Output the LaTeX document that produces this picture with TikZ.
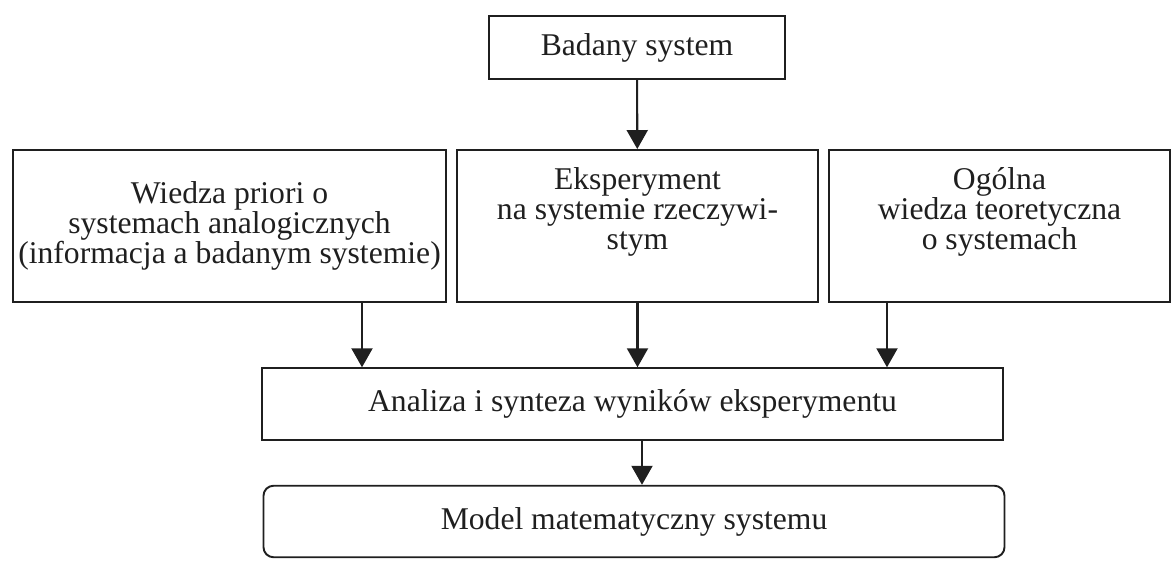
\documentclass[tikz,border=0pt]{standalone}
\usepackage{fontspec}
\setmainfont{Liberation Serif}
\usetikzlibrary{arrows.meta,positioning}
\colorlet{ink}{black!88}

\begin{document}
\begin{tikzpicture}[
  box/.style={draw=ink, line width=1.1pt, align=center, inner sep=2pt,
              text=ink, font=\fontsize{18}{17.2}\selectfont},
  source/.style={box, minimum width=#1, minimum height=3.04cm},
  wide/.style={box, minimum width=14.82cm, minimum height=1.43cm},
  arrow/.style={-{Triangle[length=3.8mm, width=4.2mm]}, line width=1.2pt, draw=ink}
]
\useasboundingbox (0,0) rectangle (23.5,11.2);
\node[box, minimum width=5.92cm, minimum height=1.26cm] (badany) at (12.74,10.25) {Badany system};
\node[source=8.66cm] (wiedza) at (4.59,6.68) {Wiedza priori o\\systemach analogicznych\\(informacja a badanym systemie)};
\node[source=7.22cm] (eksperyment) at (12.75,6.68) {Eksperyment\\na systemie rzeczywi-\\stym\\[1mm]};
\node[source=6.82cm] (ogolna) at (19.99,6.68) {Ogólna\\wiedza teoretyczna\\o systemach\\[1mm]};
\node[wide] (analiza) at (12.65,3.12) {Analiza i synteza wyników eksperymentu};
\node[wide, rounded corners=2mm] (model) at (12.68,0.77) {Model matematyczny systemu};

\draw[arrow] (badany) -- (eksperyment);
\draw[arrow] ([xshift=2.65cm]wiedza.south) -- ([xshift=2.65cm]wiedza.south |- analiza.north);
\draw[arrow] (eksperyment) -- (eksperyment |- analiza.north);
\draw[arrow] ([xshift=-2.25cm]ogolna.south) -- ([xshift=-2.25cm]ogolna.south |- analiza.north);
\draw[arrow] ([xshift=0.19cm]analiza.south) -- ([xshift=0.19cm]analiza.south |- model.north);
\end{tikzpicture}
\end{document}
